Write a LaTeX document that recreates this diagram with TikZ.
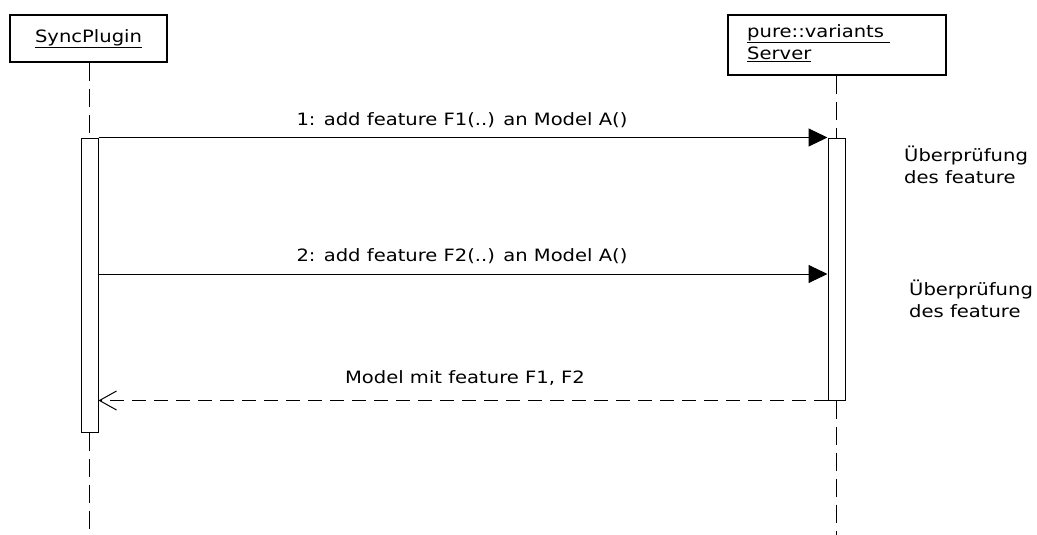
\documentclass[tikz,border=0pt]{standalone}
\usepackage{fontspec}
\setmainfont{DejaVu Sans}[FakeStretch=1.15]
\usetikzlibrary{arrows.meta}
\begin{document}
\begin{tikzpicture}[x=1pt,y=-1pt,
  every node/.style={font=\fontsize{17}{22}\selectfont, inner sep=0pt},
  objbox/.style={draw, line width=2pt, fill=white},
  actbox/.style={draw, line width=1pt, fill=white, minimum width=17pt},
  life/.style={line width=1pt, dash pattern=on 18pt off 8pt},
  msg/.style={line width=1pt, -{Triangle[length=19pt,width=18pt]}},
  ret/.style={line width=1pt, dash pattern=on 14pt off 8pt, -{Straight Barb[length=17pt,width=19pt]}},
  lbl/.style={anchor=center},
  note/.style={align=left, anchor=west}]
\useasboundingbox (0,0) rectangle (1037,535);

% objects
\node[objbox, minimum width=157pt, minimum height=47pt] (sp) at (88.5,38.5) {\underline{SyncPlugin}};
\node[objbox, minimum width=218pt, minimum height=60pt] (srv) at (837,45) {};
\node[align=left, anchor=west] (srvtxt) at (747,43) {\underline{pure::variants\ }\\\underline{Server}};

% activation boxes
\node[actbox, minimum height=294pt] (aL) at (89.5,285) {};
\node[actbox, minimum height=262pt] (aR) at (836.5,269) {};

% lifelines
\coordinate (endL) at (89.5,535);
\coordinate (endR) at (836.5,535);
\draw[life] (sp.south -| aL.center) -- (aL.north);
\draw[life] (aL.south) -- (endL);
\draw[life] (srv.south -| aR.center) -- (aR.north);
\draw[life] (aR.south) -- (endR);

% messages
\coordinate (m2) at (0,274);
\draw[msg] (aL.north east) -- (aR.north west);
\draw[msg] (aL.east |- m2) -- (aR.west |- m2);
\draw[ret] (aR.south west) -- (aL.east |- aR.south west);

% labels
\node[lbl] (l1) at (462,120) {1: add feature F1(..) an Model A()};
\node[lbl] (l2) at (462,256) {2: add feature F2(..) an Model A()};
\node[lbl] (l3) at (465,378) {Model mit feature F1, F2};

% notes
\node[note] (n1) at (904,165) {Überprüfung\\des feature};
\node[note] (n2) at (909,299) {Überprüfung\\des feature};
\end{tikzpicture}
\end{document}
